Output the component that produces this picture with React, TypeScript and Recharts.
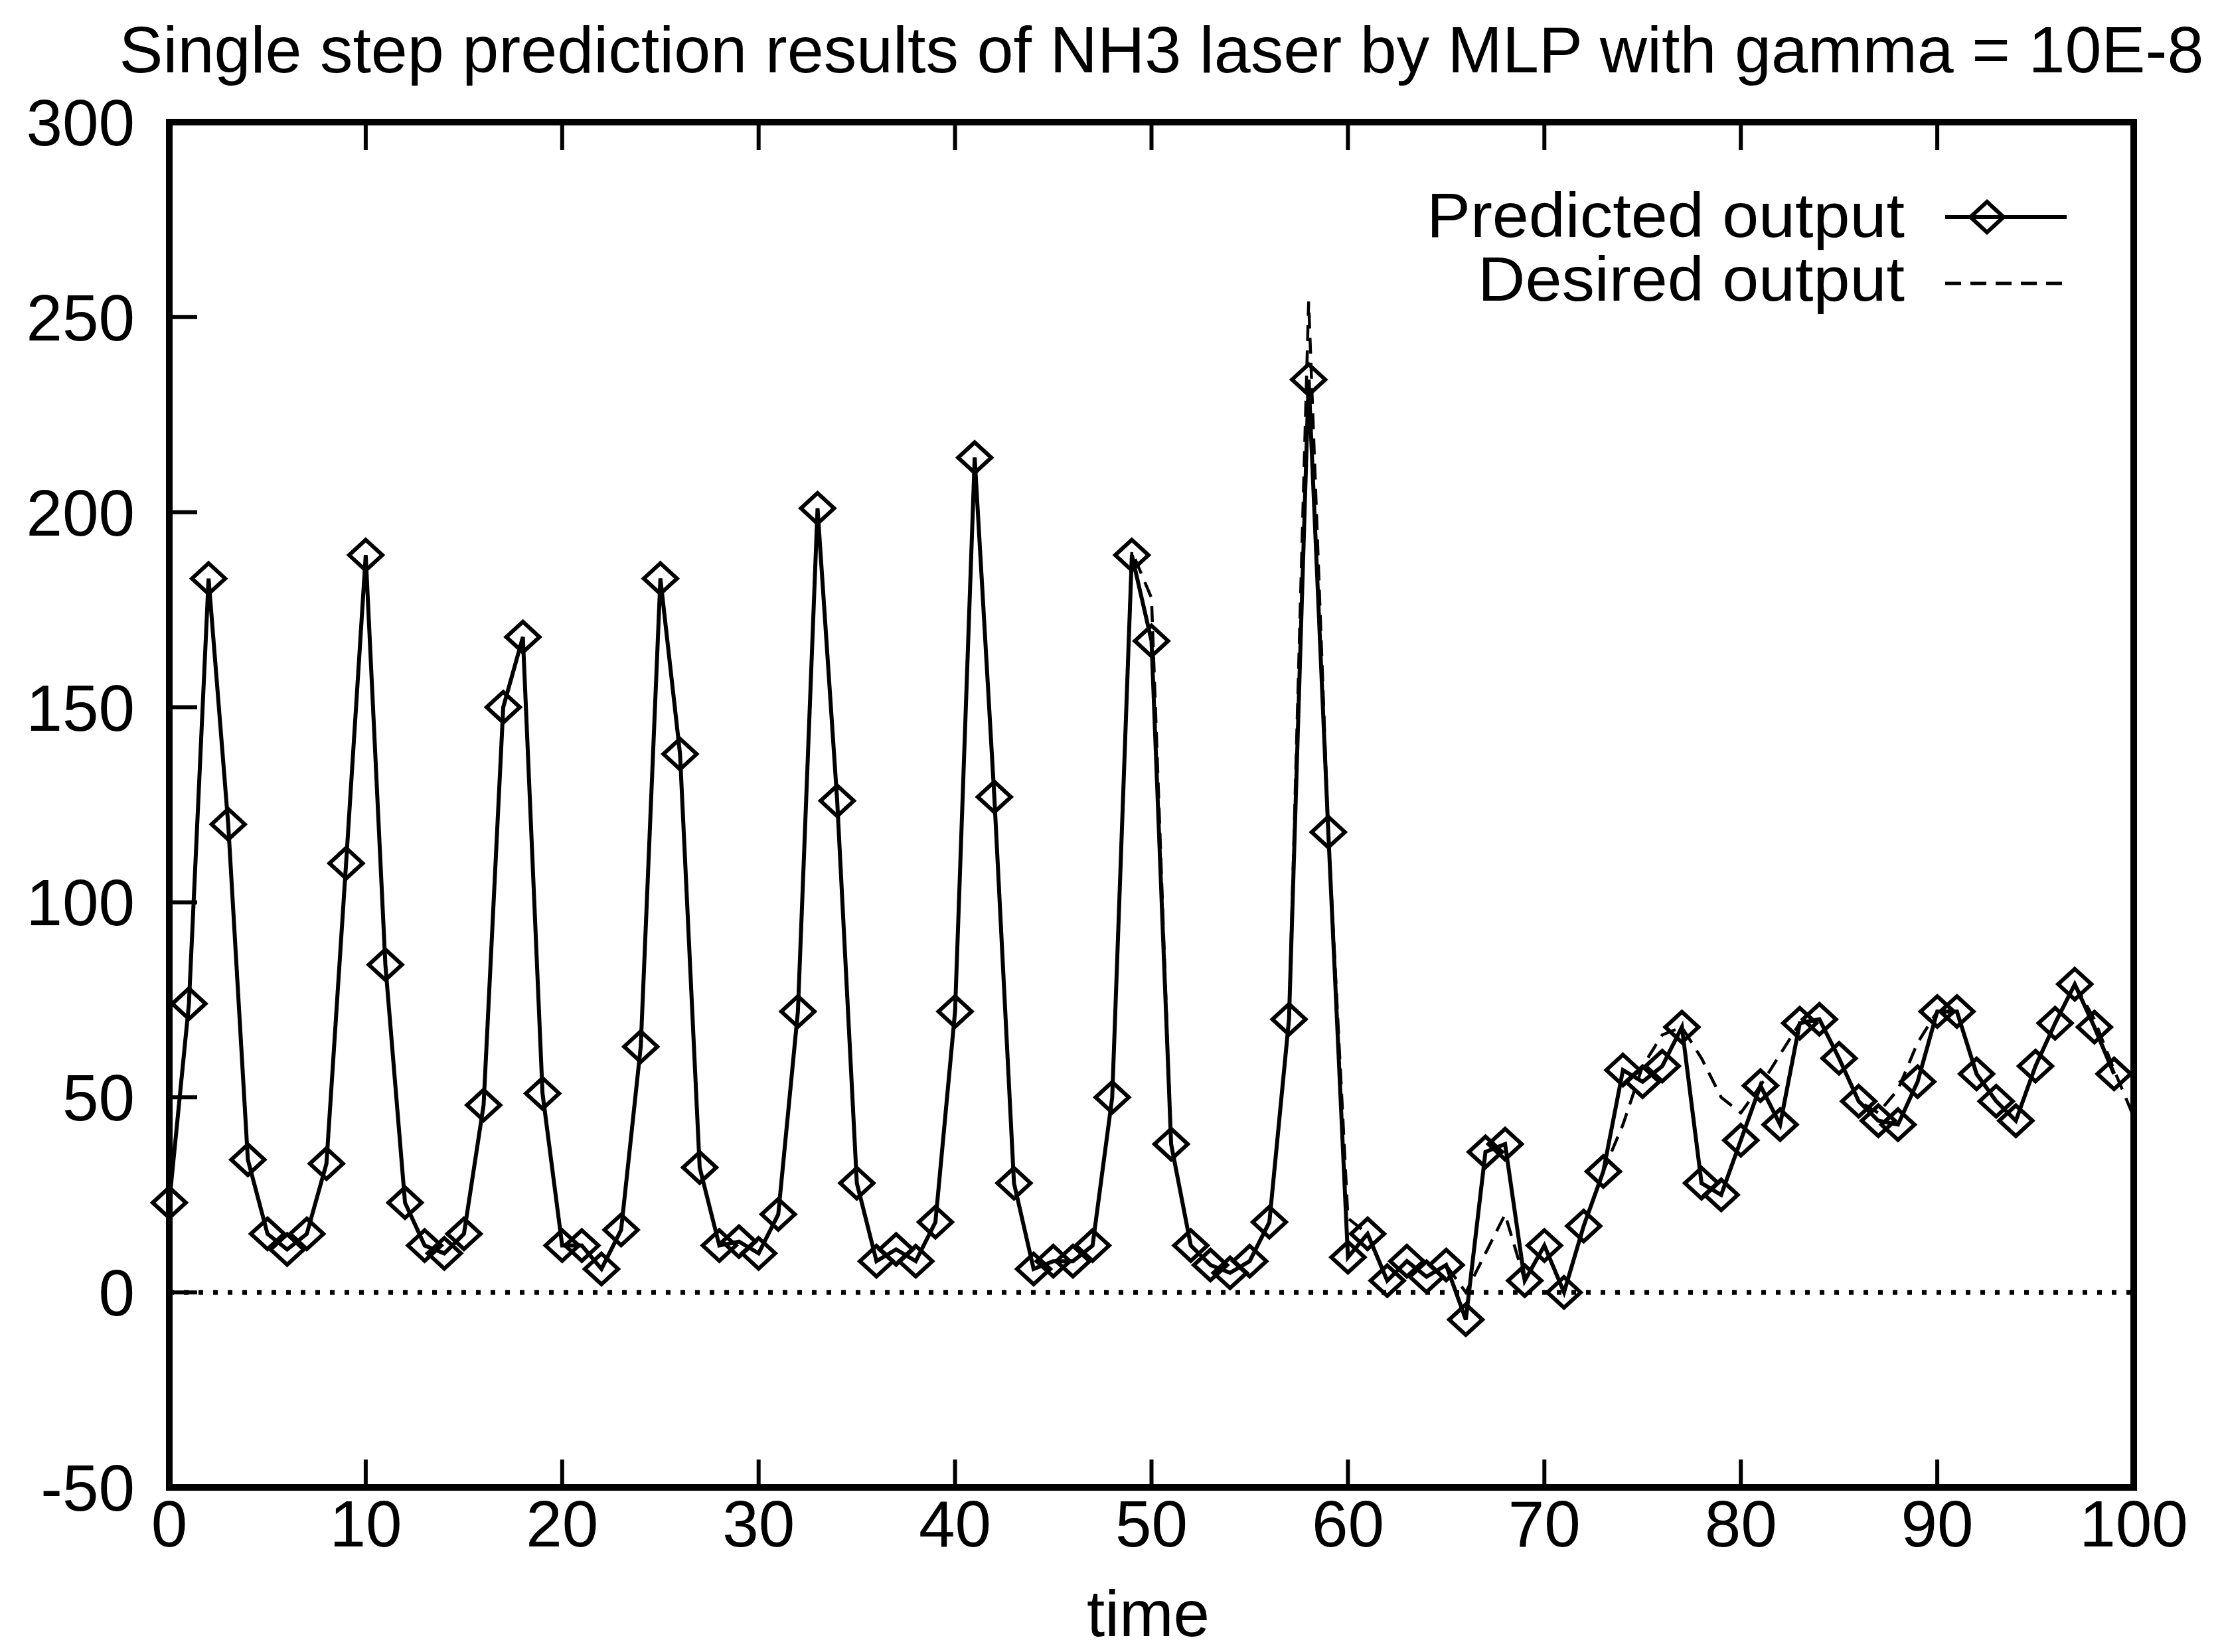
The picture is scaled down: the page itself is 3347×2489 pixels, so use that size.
import { LineChart, Line, XAxis, YAxis, ReferenceLine, Legend, Label } from 'recharts'

const W = 3347
const H = 2489
const FONT = '"Liberation Sans", Arial, Helvetica, sans-serif'
const TICK_LEN = 42

const xTicks = [0, 10, 20, 30, 40, 50, 60, 70, 80, 90, 100]
const yTicks = [-50, 0, 50, 100, 150, 200, 250, 300]

// single step prediction of the network, t = 0..99
const predicted = [
  23, 74, 183, 120, 34, 15, 11, 15, 33, 110,
  189, 84, 23, 12, 10, 15, 48, 150, 168, 51,
  12, 12, 6, 16, 63, 183, 138, 32, 12, 13,
  10, 20, 72, 201, 126, 28, 8, 11, 8, 18,
  72, 214, 127, 28, 6, 8, 8, 12, 50, 189,
  167, 38, 12, 7, 5, 8, 18, 70, 234, 118,
  9, 15, 3, 8, 4, 7, -7, 36, 38, 3,
  12, 0, 17, 31, 57, 54, 58, 68, 28, 25,
  39, 53, 43, 69, 70, 60, 49, 44, 43, 54,
  72, 72, 56, 49, 44, 58, 69, 79, 68, 56,
]

// NH3 laser series (target), t = 0..100
const desired = [
  23, 74, 183, 120, 34, 15, 11, 15, 33, 110,
  189, 84, 23, 12, 10, 15, 48, 150, 168, 51,
  12, 12, 6, 16, 63, 183, 138, 32, 12, 13,
  10, 20, 72, 201, 126, 28, 8, 11, 8, 18,
  72, 214, 127, 28, 6, 8, 8, 12, 50, 190,
  178, 38, 12, 7, 5, 8, 18, 70, 254, 118,
  19, 15, 3, 8, 4, 7, 0, 10, 20, 3,
  12, 0, 17, 31, 43, 58, 66, 68, 60, 50,
  46, 53, 61, 69, 70, 60, 49, 46, 52, 64,
  72, 72, 56, 49, 44, 58, 69, 79, 70, 57,
  45,
]

const seriesNames: Record<string, string> = {
  predicted: 'Predicted output',
  desired: 'Desired output',
}

// legend text widths in the original plot
const legendTextWidth: Record<string, number> = { predicted: 720, desired: 643 }

const data = desired.map((d, t) => ({
  t,
  desired: d,
  predicted: t < predicted.length ? predicted[t] : null,
}))

function diamondPath(cx: number, cy: number) {
  return `M${cx},${cy - 23} L${cx + 25},${cy} L${cx},${cy + 23} L${cx - 25},${cy} Z`
}

function Diamond(props: any) {
  const { cx, cy, index } = props
  if (cx == null || cy == null) return <g key={`n-${index}`} />
  return <path key={`d-${index}`} d={diamondPath(cx, cy)} fill="none" stroke="#000" strokeWidth={6} />
}

function BottomTick({ x, y, payload }: any) {
  return (
    <g>
      <line x1={x} y1={y} x2={x} y2={y - TICK_LEN} stroke="#000" strokeWidth={6} />
      <text x={x} y={y + 89} textAnchor="middle" fontSize={98} fontFamily={FONT} fill="#000">
        {payload.value}
      </text>
    </g>
  )
}

function TopTick({ x, y }: any) {
  return <line x1={x} y1={y} x2={x} y2={y + TICK_LEN} stroke="#000" strokeWidth={6} />
}

function LeftTick({ x, y, payload }: any) {
  return (
    <g>
      <line x1={x} y1={y} x2={x + TICK_LEN} y2={y} stroke="#000" strokeWidth={6} />
      <text x={x - 52} y={y + 35} textAnchor="end" fontSize={98} fontFamily={FONT} fill="#000">
        {payload.value}
      </text>
    </g>
  )
}

function RightTick({ x, y }: any) {
  return <line x1={x} y1={y} x2={x - TICK_LEN} y2={y} stroke="#000" strokeWidth={6} />
}

function TitleLabel({ viewBox }: any) {
  return (
    <text
      x={viewBox.x + viewBox.width / 2 + 15}
      y={viewBox.y - 74}
      textAnchor="middle"
      fontSize={98}
      fontFamily={FONT}
      textLength={3140}
      lengthAdjust="spacingAndGlyphs"
      fill="#000"
    >
      Single step prediction results of NH3 laser by MLP with gamma = 10E-8
    </text>
  )
}

function TimeLabel({ viewBox }: any) {
  return (
    <text x={viewBox.x + viewBox.width / 2 - 5} y={viewBox.y + 224} textAnchor="middle" fontSize={98} fontFamily={FONT} fill="#000">
      time
    </text>
  )
}

function renderLegend(props: any) {
  const items = ['predicted', 'desired'].map(k => (props.payload || []).find((p: any) => p.dataKey === k)).filter(Boolean)
  return (
    <svg width={1060} height={240} style={{ display: 'block' }}>
      {items.map((item: any, i: number) => {
        const base = 117 + i * 96
        const ly = 87 + i * 100
        return (
          <g key={item.dataKey}>
            <text
              x={769}
              y={base}
              textAnchor="end"
              fontSize={94}
              fontFamily={FONT}
              textLength={legendTextWidth[item.dataKey]}
              lengthAdjust="spacingAndGlyphs"
              fill="#000"
            >
              {item.value}
            </text>
            {item.dataKey === 'predicted' ? (
              <g>
                <line x1={830} y1={ly} x2={1013} y2={ly} stroke="#000" strokeWidth={6} />
                <path d={diamondPath(893, ly)} fill="none" stroke="#000" strokeWidth={6} />
              </g>
            ) : (
              <line x1={830} y1={ly} x2={1013} y2={ly} stroke="#000" strokeWidth={5} strokeDasharray="24 14" />
            )}
          </g>
        )
      })}
    </svg>
  )
}

export default function App() {
  const axisStyle = { stroke: '#000', strokeWidth: 10, strokeLinecap: 'square' as const }
  return (
    <div style={{ position: 'absolute', left: 0, top: 0, width: W, height: H, background: '#fff' }}>
      <LineChart width={W} height={H} data={data} margin={{ top: 183, right: 132, left: 0, bottom: 0 }}>
        <XAxis
          dataKey="t"
          type="number"
          domain={[0, 100]}
          ticks={xTicks}
          interval={0}
          height={248}
          tickSize={0}
          tickMargin={0}
          axisLine={axisStyle}
          tickLine={false}
          tick={BottomTick}
        >
          <Label content={TimeLabel} />
        </XAxis>
        <XAxis
          xAxisId="top"
          orientation="top"
          type="number"
          dataKey="t"
          domain={[0, 100]}
          ticks={xTicks}
          interval={0}
          height={1}
          tickSize={0}
          tickMargin={0}
          axisLine={axisStyle}
          tickLine={false}
          tick={TopTick}
        >
          <Label content={TitleLabel} />
        </XAxis>
        <YAxis
          type="number"
          domain={[-50, 300]}
          ticks={yTicks}
          interval={0}
          width={255}
          tickSize={0}
          tickMargin={0}
          axisLine={axisStyle}
          tickLine={false}
          tick={LeftTick}
        />
        <YAxis
          yAxisId="right"
          orientation="right"
          type="number"
          domain={[-50, 300]}
          ticks={yTicks}
          interval={0}
          width={1}
          tickSize={0}
          tickMargin={0}
          axisLine={axisStyle}
          tickLine={false}
          tick={RightTick}
        />
        <ReferenceLine y={0} stroke="#000" strokeWidth={7} strokeDasharray="7 15" />
        <Legend
          layout="vertical"
          align="center"
          verticalAlign="middle"
          content={renderLegend}
          wrapperStyle={{ left: 2100, top: 240, width: 1060, height: 240 }}
        />
        <Line
          dataKey="desired"
          name={seriesNames.desired}
          type="linear"
          stroke="#000"
          strokeWidth={4.5}
          strokeDasharray="24 14"
          dot={false}
          activeDot={false}
          isAnimationActive={false}
        />
        <Line
          dataKey="predicted"
          name={seriesNames.predicted}
          type="linear"
          stroke="#000"
          strokeWidth={6}
          dot={Diamond}
          activeDot={false}
          isAnimationActive={false}
        />
      </LineChart>
    </div>
  )
}
